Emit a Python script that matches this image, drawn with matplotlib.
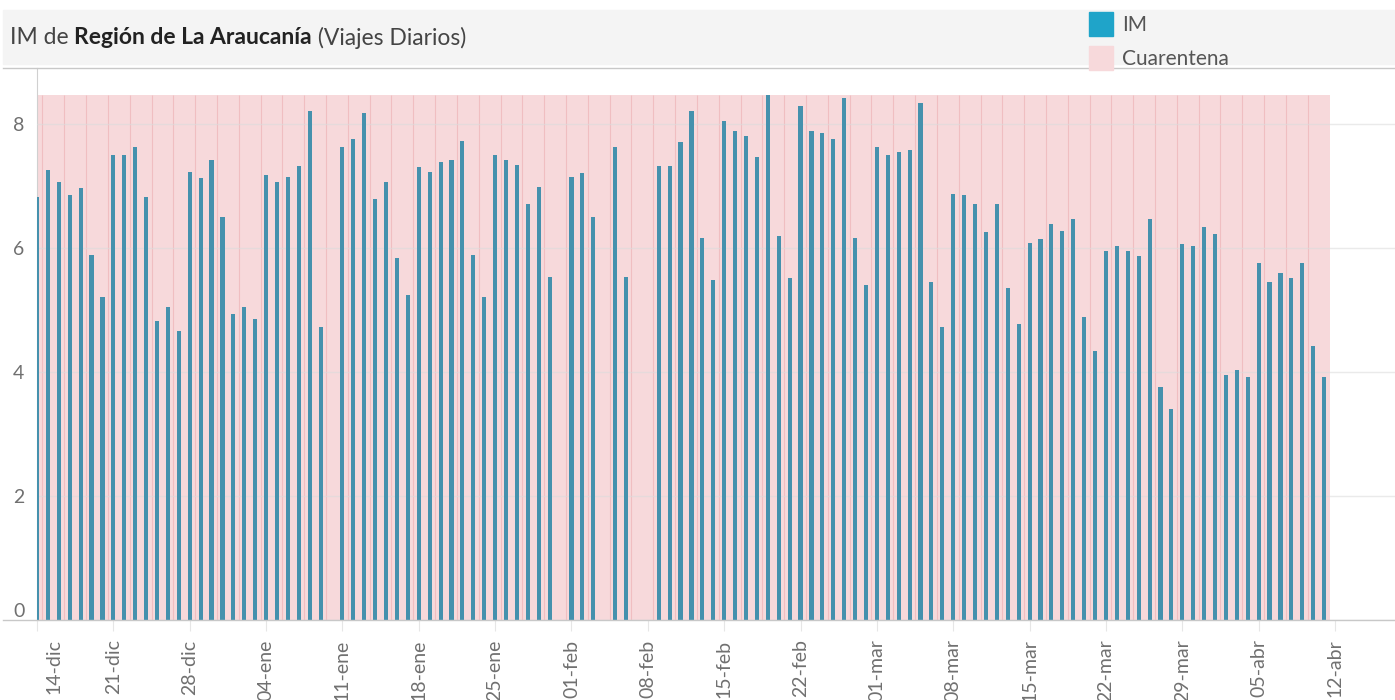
import matplotlib
matplotlib.use("Agg")
import matplotlib.pyplot as plt
import matplotlib.transforms as mtrans
from matplotlib.patches import Rectangle
from matplotlib.lines import Line2D
import numpy as np

# daily IM values, day 0 = 14-dic-2020 (nan = no data)
im_values = [6.82, 7.26, 7.06, 6.86, 6.96, 5.89, 5.21, 7.50, 7.49, 7.62,
             6.82, 4.82, 5.04, 4.66, 7.23, 7.13, 7.42, 6.50, 4.94, 5.04,
             4.85, 7.18, 7.06, 7.15, 7.32, 8.21, 4.72, np.nan, 7.62, 7.76,
             8.17, 6.78, 7.06, 5.84, 5.24, 7.30, 7.23, 7.38, 7.41, 7.73,
             5.89, 5.21, 7.50, 7.41, 7.34, 6.71, 6.98, 5.53, np.nan, 7.15,
             7.21, 6.50, np.nan, 7.62, 5.53, np.nan, np.nan, 7.32, 7.32, 7.70,
             8.20, 6.16, 5.48, 8.05, 7.89, 7.81, 7.46, 8.47, 6.19, 5.52,
             8.28, 7.89, 7.86, 7.76, 8.41, 6.16, 5.40, 7.62, 7.50, 7.54,
             7.58, 8.33, 5.45, 4.72, 6.87, 6.86, 6.70, 6.25, 6.71, 5.36,
             4.77, 6.08, 6.15, 6.39, 6.27, 6.47, 4.88, 4.33, 5.95, 6.03,
             5.95, 5.87, 6.47, 3.75, 3.40, 6.07, 6.03, 6.34, 6.23, 3.95,
             4.03, 3.91, 5.76, 5.45, 5.60, 5.52, 5.76, 4.42, 3.91]
im_days = np.arange(len(im_values))

# quarantine covers every day shown, drawn up to the max IM
cuarentena_days = np.arange(0, 119)
cuarentena_level = 8.47

tick_days = list(range(0, 120, 7))
tick_labels = ["14-dic", "21-dic", "28-dic", "04-ene", "11-ene", "18-ene",
               "25-ene", "01-feb", "08-feb", "15-feb", "22-feb", "01-mar",
               "08-mar", "15-mar", "22-mar", "29-mar", "05-abr", "12-abr"]

plt.rcParams['font.family'] = ['Lato', 'DejaVu Sans']

W, H = 1395, 700
fig = plt.figure(figsize=(W / 100, H / 100), dpi=100)

def px(x, y):
    return x / W, 1 - y / H

# header band
fig.patches.append(Rectangle(px(3, 64), (W - 3) / W, 54 / H, transform=fig.transFigure,
                             color='#f4f4f4', zorder=0))

ax = fig.add_axes([37 / W, 80 / H, (W - 37) / W, 552 / H])
ax.bar(cuarentena_days, [cuarentena_level] * len(cuarentena_days), width=1.0,
       color='#f7d9db', edgecolor='none', linewidth=0, zorder=1)
# faint seams between the daily quarantine blocks
ax.vlines(cuarentena_days[1::2] - 0.5, 0, cuarentena_level, color='#eeb3b6',
          linewidth=0.8, alpha=0.7, zorder=1.5)
ax.bar(im_days, im_values, width=0.38, color='#4591ad', zorder=3)

ax.set_xlim(0, 124.5)
ax.set_ylim(0, 8.9)
ax.set_yticks([0, 2, 4, 6, 8])
ax.grid(axis='y', color='#dcdcdc', linewidth=1, alpha=0.6, zorder=2)
ax.set_axisbelow(False)
ax.tick_params(axis='y', length=0, pad=9, labelsize=14, labelcolor='#707070')
ax.set_xticks(tick_days)
ax.set_xticklabels(tick_labels, rotation=90, va='top', ha='center')
ax.tick_params(axis='x', length=8, color='#e6e6e6', pad=6, labelsize=14,
               labelcolor='#707070')
for s in ['top', 'right', 'bottom']:
    ax.spines[s].set_visible(False)
ax.spines['left'].set_color('#d0d0d0')

# first date label shifted right, zero label sits above the baseline
offset = mtrans.ScaledTranslation(0.17, 0, fig.dpi_scale_trans)
first = ax.get_xticklabels()[0]
first.set_transform(first.get_transform() + offset)
zero = ax.get_yticklabels()[0]
zero.set_va('bottom')

# lines framing the plot
fig.add_artist(Line2D([3 / W, 1], [1 - 68 / H] * 2, color='#c8c8c8', linewidth=1))
fig.add_artist(Line2D([3 / W, 1], [1 - 620 / H] * 2, color='#c8c8c8', linewidth=1))

# title with mixed weights
fig.canvas.draw()
r = fig.canvas.get_renderer()
x0, y0 = px(10, 38)
parts = [("IM de ", 'normal', '#444444'), ("Región de La Araucanía", 'bold', '#222222'),
         (" (Viajes Diarios)", 'normal', '#444444')]
for txt, w, c in parts:
    t = fig.text(x0, y0, txt, fontsize=16.5, fontweight=w, color=c, va='center', ha='left')
    bb = t.get_window_extent(renderer=r)
    x0 += bb.width / W

# legend
fig.patches.append(Rectangle(px(1089, 36), 24 / W, 24 / H, transform=fig.transFigure,
                             color='#1fa4c9', zorder=2))
fig.patches.append(Rectangle(px(1089, 70), 24 / W, 24 / H, transform=fig.transFigure,
                             color='#f7d9db', zorder=2))
fig.text(*px(1122, 25), "IM", fontsize=15, color='#555555', va='center')
fig.text(*px(1122, 59), "Cuarentena", fontsize=15, color='#555555', va='center')

plt.savefig("out.png", dpi=100)
plt.close()
